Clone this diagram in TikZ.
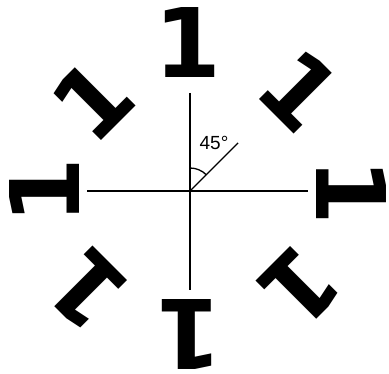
\documentclass[tikz,border=0pt]{standalone}
\usepackage{fontspec}
\setmainfont{Liberation Sans}
\newfontfamily\digitfont{DejaVu Sans}
\begin{document}
\begin{tikzpicture}[x=1pt, y=1pt, line width=1.3pt]
  \useasboundingbox (0,0) rectangle (389,374);
  \coordinate (O) at (190,183);
  % axes and the 45 degree ray
  \draw (87,183) coordinate (xl) -- (308,183) coordinate (xr);
  \draw (190,281) coordinate (yt) -- (190,84) coordinate (yb);
  \draw (O) -- ++(45:68) coordinate (ray);
  \draw ([shift={(90:23)}]O) arc (90:45:23);
  \node at (214,231) {\fontsize{19}{19}\selectfont 45°};
  % the eight ones, each pointing away from the centre
  \foreach \ang/\px/\py in {90/188/331, 45/300/284, 0/351/182, -45/300/87,
                            -90/189/40, -135/87/84, 180/45/183, 135/92/274}
    \node[inner sep=0pt, rotate=\ang-90] (one\px) at (\px,\py)
      {\digitfont\bfseries\fontsize{96}{96}\selectfont 1};
\end{tikzpicture}
\end{document}
